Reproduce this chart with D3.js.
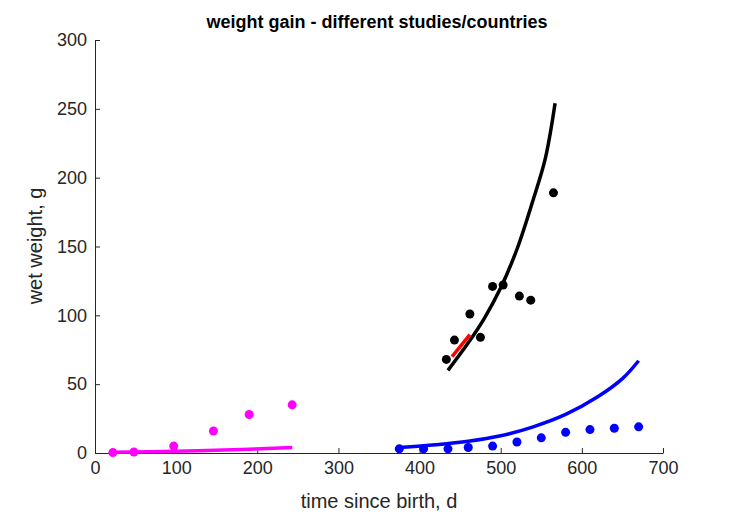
<!DOCTYPE html><html><head><meta charset="utf-8"><script src="https://cdn.jsdelivr.net/npm/d3@7"></script>
<style>body{margin:0;background:#fff}text{font-family:"Liberation Sans",Arial,sans-serif}</style></head><body><svg width="729" height="521"></svg><script>
const magentaT=[22,48,97,146,190,243], magentaW=[0.3,0.7,5,16,28,35];
const blueT=[375,405,435,460,490,520,550,580,610,640,670], blueW=[3,3,3,4,5,8,11,15,17,18,19];
const blackT=[433,443,462,475,490,503,523,537,565], blackW=[68,82,101,84,121,122,114,111,189];
const magentaFitT=[20,100,180,243], magentaFitW=[0.5,1.3,2.5,4];
const blueFitT=[375,420,460,500,540,580,620,650,670], blueFitW=[4,6,8.5,12.5,19,28,41,54,67];
const blackFitT=[435,460,480,500,520,540,555,567], blackFitW=[60,80,98,120,148,184,214,254];
const redFitT=[440,462], redFitW=[70,86];
const xTicks=[0,100,200,300,400,500,600,700], yTicks=[0,50,100,150,200,250,300];
const svg=d3.select("svg");
const x=d3.scaleLinear().domain([0,700]).range([95,663]);
const y=d3.scaleLinear().domain([0,300]).range([453,40]);
svg.append("g").attr("transform","translate(0,453)").call(d3.axisBottom(x).tickValues(xTicks).tickSizeInner(-5).tickSizeOuter(0).tickPadding(8))
 .call(g=>g.selectAll("text").attr("font-size",18).attr("fill","#262626"));
svg.append("g").attr("transform","translate(95,0)").call(d3.axisLeft(y).tickValues(yTicks).tickSizeInner(-5).tickSizeOuter(0).tickPadding(8))
 .call(g=>g.selectAll("text").attr("font-size",18).attr("fill","#262626"));
svg.selectAll(".domain,.tick line").attr("stroke","#262626");
const line=d3.line().x(d=>x(d[0])).y(d=>y(d[1])).curve(d3.curveCatmullRom);
function fit(T,W,c){svg.append("path").attr("d",line(T.map((t,i)=>[t,W[i]]))).attr("fill","none").attr("stroke",c).attr("stroke-width",3.5);}
function dots(T,W,c){svg.append("g").selectAll("circle").data(T).join("circle").attr("cx",d=>x(d)).attr("cy",(d,i)=>y(W[i])).attr("r",4.5).attr("fill",c);}
fit(magentaFitT,magentaFitW,"#ff00ff");fit(blueFitT,blueFitW,"#0000ff");fit(blackFitT,blackFitW,"#000");fit(redFitT,redFitW,"#ff0000");
dots(magentaT,magentaW,"#ff00ff");dots(blueT,blueW,"#0000ff");dots(blackT,blackW,"#000");
svg.append("text").attr("x",377).attr("y",28).attr("text-anchor","middle").attr("font-size",18).attr("font-weight","bold").text("weight gain - different studies/countries");
svg.append("text").attr("x",379).attr("y",508).attr("text-anchor","middle").attr("font-size",20).attr("fill","#262626").text("time since birth, d");
svg.append("text").attr("transform","translate(42,246) rotate(-90)").attr("text-anchor","middle").attr("font-size",20).attr("fill","#262626").text("wet weight, g");
</script></body></html>
